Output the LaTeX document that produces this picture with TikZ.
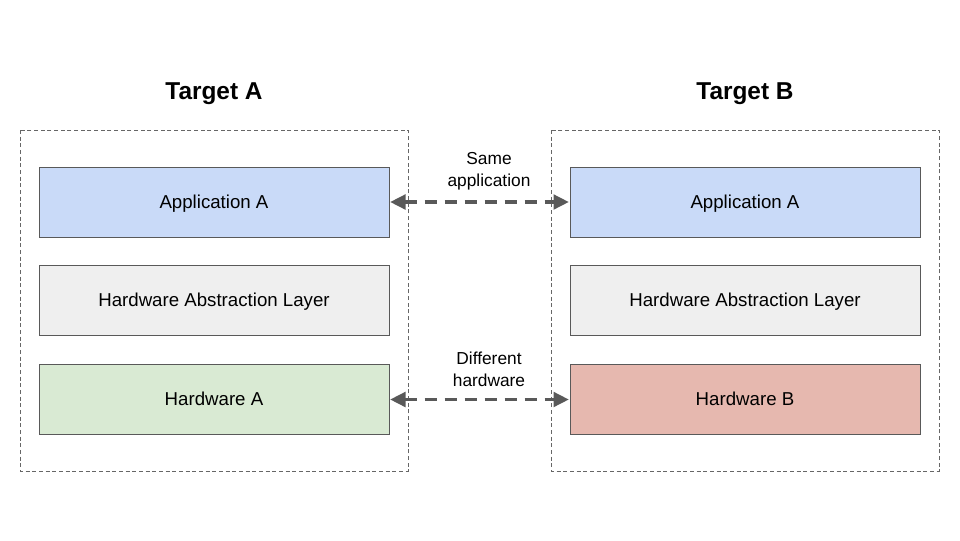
\documentclass[tikz,border=0pt]{standalone}
\usepackage{fontspec}
\setmainfont{Liberation Sans}
\usetikzlibrary{arrows.meta}
\definecolor{boxline}{HTML}{595959}
\definecolor{appblue}{HTML}{C9DAF8}
\definecolor{halgrey}{HTML}{EFEFEF}
\definecolor{hwgreen}{HTML}{D9EAD3}
\definecolor{hwred}{HTML}{E6B8AF}
\definecolor{arrowgrey}{HTML}{595959}
\definecolor{frame}{HTML}{666666}
\tikzset{
  layerbox/.style={draw=boxline, line width=0.75pt, minimum width=262.5pt, minimum height=52.5pt, inner sep=0pt, text height=10pt, text depth=0.5pt, font=\fontsize{14}{16}\selectfont},
  targetframe/.style={draw=frame, line width=0.5pt, dash pattern=on 3pt off 2pt},
  title/.style={font=\fontsize{18.3}{20}\selectfont\bfseries},
  lbl/.style={font=\fontsize{13}{16.5}\selectfont, align=center},
  link/.style={draw=arrowgrey, line width=2.3pt, dash pattern=on 9pt off 6pt, {Triangle[width=11pt,length=11.5pt]}-{Triangle[width=11pt,length=11.5pt]}, shorten <=0.5pt, shorten >=0.5pt}
}
\begin{document}
\begin{tikzpicture}[x=0.75pt,y=-0.75pt]
\useasboundingbox (0,0) rectangle (960,540);
% frames
\draw[targetframe] (20,130) rectangle (408,471);
\draw[targetframe] (551,130) rectangle (939,471);
% titles
\node[title] (ta) at (214,94) {Target A};
\node[title] (tb) at (745,94) {Target B};
% left boxes
\node[layerbox, fill=appblue] (appA) at (214,202) {Application A};
\node[layerbox, fill=halgrey] (halA) at (214,300.5) {Hardware Abstraction Layer};
\node[layerbox, fill=hwgreen] (hwA) at (214,399.5) {Hardware A};
% right boxes
\node[layerbox, fill=appblue] (appB) at (745,202) {Application A};
\node[layerbox, fill=halgrey] (halB) at (745,300.5) {Hardware Abstraction Layer};
\node[layerbox, fill=hwred] (hwB) at (745,399.5) {Hardware B};
% links
\draw[link] (appA.east) -- (appB.west);
\draw[link] (hwA.east) -- (hwB.west);
\node[lbl] (l1) at (489,171.5) {Same\\application};
\node[lbl] (l2) at (489,369.5) {Different\\hardware};
\end{tikzpicture}
\end{document}
